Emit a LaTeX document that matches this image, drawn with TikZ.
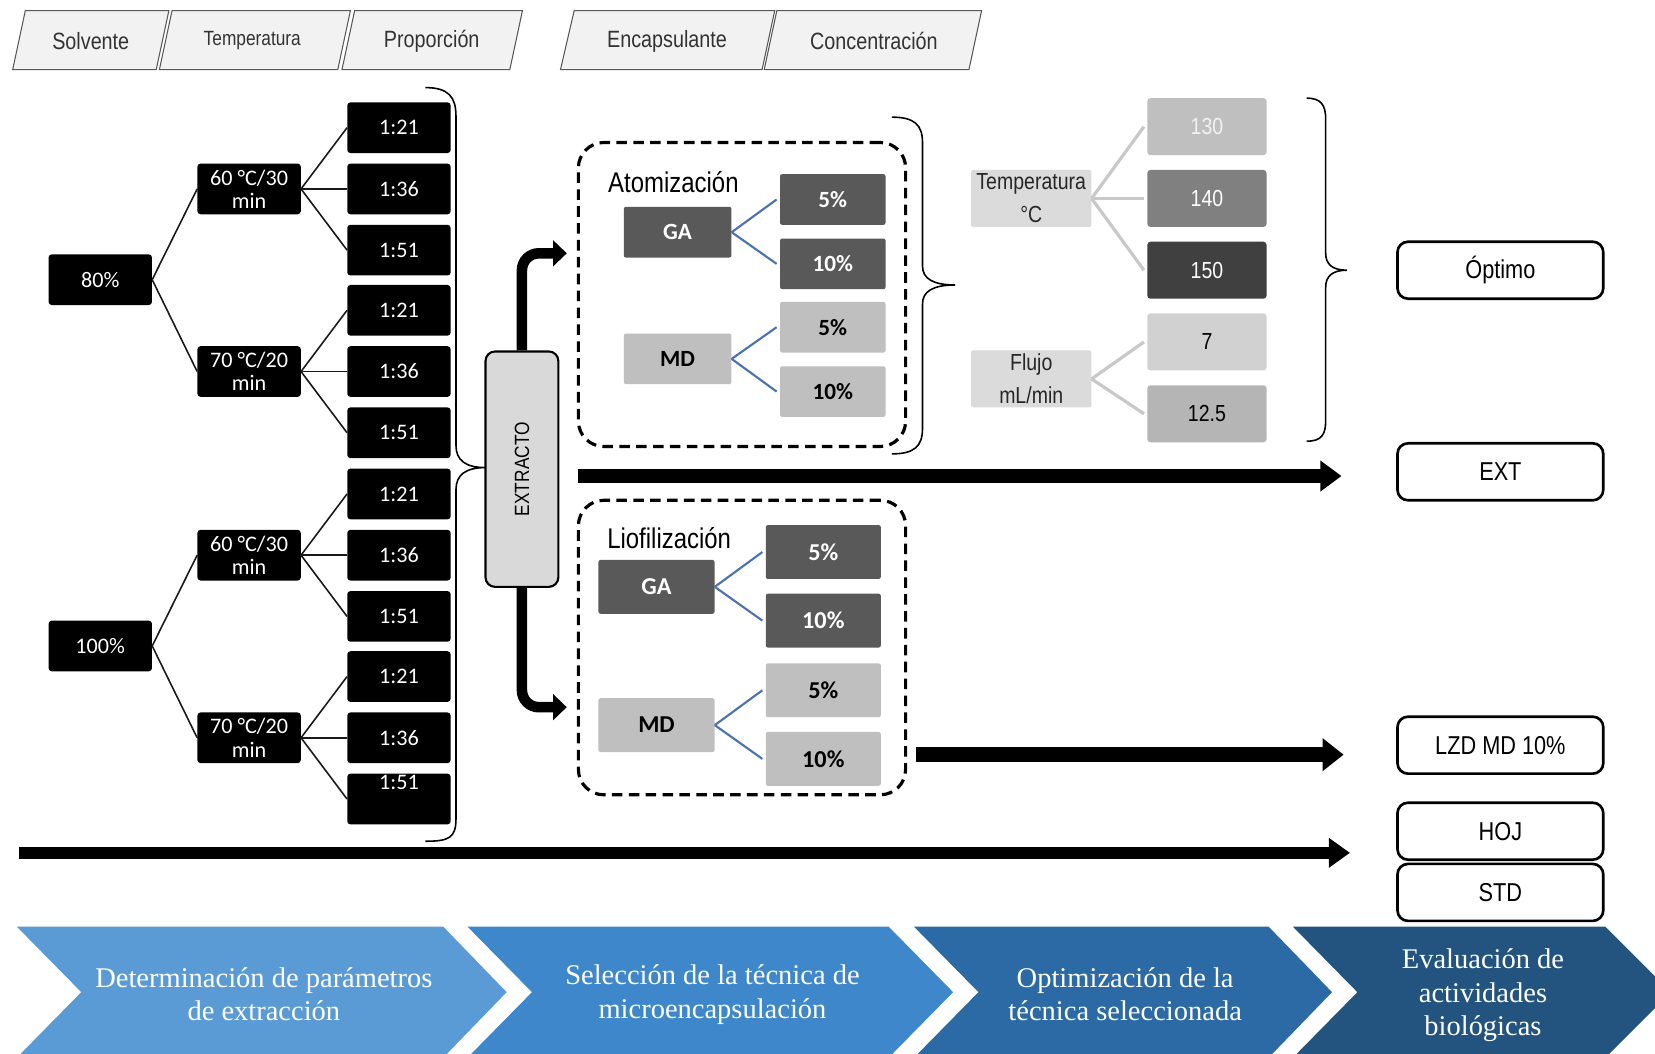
\documentclass[tikz,border=0pt]{standalone}
\usepackage{fontspec}
\setmainfont{Liberation Serif}
\newfontfamily\narfont[FakeStretch=0.84]{Liberation Sans}
\newfontfamily\calfont{Carlito}
\usetikzlibrary{arrows.meta}
\newcommand\fsz[2]{\fontsize{#1}{#2}\selectfont}
\definecolor{hdrfill}{HTML}{F2F2F2}
\definecolor{hdrline}{HTML}{595959}
\definecolor{gdk}{HTML}{595959}
\definecolor{glt}{HTML}{BFBFBF}
\definecolor{bluel}{HTML}{4A72B0}
\definecolor{grayl}{HTML}{C8C8C8}
\definecolor{chA}{HTML}{5B9BD5}
\definecolor{chB}{HTML}{3E87CA}
\definecolor{chC}{HTML}{2B6AA4}
\definecolor{chD}{HTML}{22547F}
\tikzset{
  hdr/.style={draw=hdrline, fill=hdrfill, line width=1pt},
  hdrtxt/.style={font=\narfont\fsz{22.3}{26}, text=black!80, inner sep=0pt},
  blk/.style={fill=black, rounded corners=3pt, minimum width=98pt, minimum height=48pt,
     inner sep=0pt, text=white, font=\calfont\fsz{21}{22}, align=center},
  tline/.style={line width=1.5pt, draw=black!90},
  fatarrow/.style={line width=10pt, rounded corners=16pt, -{Triangle[length=13pt,width=24pt]}},
  dbox/.style={draw=black, dash pattern=on 10pt off 6pt, line width=3pt, rounded corners=24pt,
     minimum width=310pt, inner sep=0pt},
  ptitle/.style={font=\narfont\fsz{27}{30}, inner sep=0pt},
  gdark/.style={fill=gdk, text=white, rounded corners=2pt, inner sep=0pt, font=\calfont\bfseries\fsz{22}{24}},
  glight/.style={fill=glt, text=black, rounded corners=2pt, inner sep=0pt, font=\calfont\bfseries\fsz{22}{24}},
  bline/.style={draw=bluel, line width=2pt},
  gline/.style={draw=grayl, line width=3pt},
  pbox/.style={minimum width=114pt, minimum height=54pt, inner sep=0pt, rounded corners=2pt,
     fill=black!14, text=black!85, align=center, font=\narfont\fsz{22}{31}},
  vbox/.style={minimum width=113pt, minimum height=54pt, inner sep=0pt, rounded corners=3pt,
     font=\narfont\fsz{22}{24}},
  rbox/.style={draw=black, line width=2.5pt, rounded corners=10pt, fill=white,
     minimum width=195pt, minimum height=54pt, inner sep=0pt, font=\narfont\fsz{24.5}{27}},
  brace/.style={draw=black, line width=1.5pt},
  chevtxt/.style={text=white, font=\fsz{27}{32}, align=center, inner sep=0pt}
}
\begin{document}
\begin{tikzpicture}[x=1pt,y=-1pt]
\clip (0,0) rectangle (1568,998);
\fill[white] (0,0) rectangle (1568,998);

% ---------- headers ----------
\draw[hdr] (24,10) -- (160,10) -- (148,66) -- (12,66) -- cycle;
\node[hdrtxt] (hSolv) at (86,39) {Solvente};
\draw[hdr] (163,10) -- (332,10) -- (320,66) -- (151,66) -- cycle;
\node[hdrtxt, font=\narfont\fsz{19.5}{23}] (hTemp) at (239,38) {Temperatura};
\draw[hdr] (336,10) -- (495,10) -- (483,66) -- (324,66) -- cycle;
\node[hdrtxt] (hProp) at (409,39) {Proporción};
\draw[hdr] (544,10) -- (734,10) -- (722,66) -- (531,66) -- cycle;
\node[hdrtxt] (hEnc) at (632,39) {Encapsulante};
\draw[hdr] (736,10) -- (930,10) -- (918,66) -- (724,66) -- cycle;
\node[hdrtxt] (hConc) at (828,39) {Concentración};

% ---------- extraction tree ----------
\node[blk] (s80) at (95,265) {80\%};
\node[blk] (s100) at (95,612) {100\%};
\node[blk] (t1) at (236,179) {60 °C/30\\min};
\node[blk] (t2) at (236,352) {70 °C/20\\min};
\node[blk] (t3) at (236,526) {60 °C/30\\min};
\node[blk] (t4) at (236,699) {70 °C/20\\min};
\foreach \i/\y/\t in {1/121/1:21, 2/179/1:36, 3/237/1:51,
                      4/294/1:21, 5/352/1:36, 6/410/1:51,
                      7/468/1:21, 8/526/1:36, 9/584/1:51,
                      10/641/1:21, 11/699/1:36}
  \node[blk] (r\i) at (378,\y) {\t};
\node[blk] (r12) at (378,757) {};
\node[text=white, font=\calfont\fsz{21}{22}, inner sep=0pt] (r12t) at (378,741) {1:51};

\foreach \p/\c in {s80/t1, s80/t2, s100/t3, s100/t4}
  \draw[tline] (\p.east) -- (\c.west);
\foreach \p/\a/\b/\c in {t1/r1/r2/r3, t2/r4/r5/r6, t3/r7/r8/r9, t4/r10/r11/r12}{
  \draw[tline] (\p.east) -- (\a.west);
  \draw[tline] (\p.east) -- (\b.west);
  \draw[tline] (\p.east) -- (\c.west);
}

% brace to EXTRACTO
\draw[brace] (403,83) .. controls (425,83) and (432,92) .. (432,110) -- (432,422)
  .. controls (432,436) and (441,443) .. (460,443)
  .. controls (441,443) and (432,450) .. (432,464) -- (432,776)
  .. controls (432,794) and (425,797) .. (403,797);

% ---------- EXTRACTO ----------
\node[draw=black, line width=2pt, fill=black!15, rounded corners=9pt,
      minimum width=69pt, minimum height=223pt, inner sep=0pt] (ext) at (494.5,444.5) {};
\node[rotate=90, font=\narfont\fsz{19.5}{22}, inner sep=0pt] (extt) at (ext.center) {EXTRACTO};
\coordinate (upEnd) at (537,240);
\coordinate (dnEnd) at (537,670);
\draw[fatarrow] (ext.north) -- (ext.north |- upEnd) -- (upEnd);
\draw[fatarrow] (ext.south) -- (ext.south |- dnEnd) -- (dnEnd);

% ---------- Atomizacion ----------
\node[dbox, minimum height=288pt] (atom) at (703,279) {};
\node[ptitle] (atomt) at (638,173) {Atomización};
\node[gdark, minimum width=102pt, minimum height=48pt] (aGA) at (642,220) {GA};
\node[gdark, minimum width=100pt, minimum height=48pt] (aG5) at (789,189) {5\%};
\node[gdark, minimum width=100pt, minimum height=48pt] (aG10) at (789,250) {10\%};
\node[glight, minimum width=102pt, minimum height=48pt] (aMD) at (642,340) {MD};
\node[glight, minimum width=100pt, minimum height=48pt] (aM5) at (789,310) {5\%};
\node[glight, minimum width=100pt, minimum height=48pt] (aM10) at (789,371) {10\%};
\draw[bline] (aGA.east) -- ([xshift=-3pt]aG5.west);
\draw[bline] (aGA.east) -- ([xshift=-3pt]aG10.west);
\draw[bline] (aMD.east) -- ([xshift=-3pt]aM5.west);
\draw[bline] (aMD.east) -- ([xshift=-3pt]aM10.west);

\draw[brace] (845,111) .. controls (866,111) and (874,118) .. (874,135) -- (874,252)
  .. controls (874,264) and (884,270) .. (905,270)
  .. controls (884,270) and (874,276) .. (874,288) -- (874,406)
  .. controls (874,423) and (866,430) .. (845,430);

% ---------- Liofilizacion ----------
\node[dbox, minimum height=279pt] (lio) at (703,613.5) {};
\node[ptitle] (liot) at (634,510) {Liofilización};
\node[gdark, minimum width=110pt, minimum height=51pt, font=\calfont\bfseries\fsz{23}{25}] (lGA) at (622,556) {GA};
\node[gdark, minimum width=109pt, minimum height=51pt, font=\calfont\bfseries\fsz{23}{25}] (lG5) at (780,523) {5\%};
\node[gdark, minimum width=109pt, minimum height=51pt, font=\calfont\bfseries\fsz{23}{25}] (lG10) at (780,588) {10\%};
\node[glight, minimum width=110pt, minimum height=51pt, font=\calfont\bfseries\fsz{23}{25}] (lMD) at (622,687) {MD};
\node[glight, minimum width=109pt, minimum height=51pt, font=\calfont\bfseries\fsz{23}{25}] (lM5) at (780,654) {5\%};
\node[glight, minimum width=109pt, minimum height=51pt, font=\calfont\bfseries\fsz{23}{25}] (lM10) at (780,719) {10\%};
\draw[bline] (lGA.east) -- ([xshift=-3pt]lG5.west);
\draw[bline] (lGA.east) -- ([xshift=-3pt]lG10.west);
\draw[bline] (lMD.east) -- ([xshift=-3pt]lM5.west);
\draw[bline] (lMD.east) -- ([xshift=-3pt]lM10.west);

% ---------- optimisation ----------
\node[pbox] (pT) at (977,188) {Temperatura\\°C};
\node[pbox] (pF) at (977,359) {Flujo\\mL/min};
\node[vbox, fill=glt, text=black!5] (v130) at (1143.5,120) {130};
\node[vbox, fill=black!50, text=white] (v140) at (1143.5,188) {140};
\node[vbox, fill=black!75, text=white] (v150) at (1143.5,256) {150};
\node[vbox, fill=black!18, text=black] (v7) at (1143.5,324) {7};
\node[vbox, fill=black!29, text=black] (v125) at (1143.5,392) {12.5};
\draw[gline] (pT.east) -- ([xshift=-3pt]v130.west);
\draw[gline] (pT.east) -- ([xshift=-3pt]v140.west);
\draw[gline] (pT.east) -- ([xshift=-3pt]v150.west);
\draw[gline] (pF.east) -- ([xshift=-3pt]v7.west);
\draw[gline] (pF.east) -- ([xshift=-3pt]v125.west);

\draw[brace] (1238,93) .. controls (1252,93) and (1256,100) .. (1256,113) -- (1256,240)
  .. controls (1256,250) and (1262,256) .. (1276,256)
  .. controls (1262,256) and (1256,262) .. (1256,272) -- (1256,398)
  .. controls (1256,412) and (1252,418) .. (1238,418);

% ---------- results ----------
\node[rbox] (opt) at (1421.5,256) {Óptimo};
\node[rbox] (extr) at (1421.5,447) {EXT};
\node[rbox] (lzd) at (1421.5,706) {LZD MD 10\%};
\node[rbox] (hoj) at (1421.5,787.5) {HOJ};
\node[rbox] (std) at (1421.5,845.5) {STD};

% ---------- long arrows ----------
\coordinate (a1s) at (548,451);
\coordinate (a1e) at (1271,451);
\draw[line width=13pt, -{Triangle[length=20pt,width=28pt]}] (a1s) -- (a1e);
\coordinate (a2s) at (868,715);
\coordinate (a2e) at (1273,715);
\draw[line width=14pt, -{Triangle[length=20pt,width=30pt]}] (a2s) -- (a2e);
\coordinate (a3s) at (18,808);
\coordinate (a3e) at (1279,808);
\draw[line width=12pt, -{Triangle[length=20pt,width=27pt]}] (a3s) -- (a3e);

% ---------- chevrons ----------
\fill[chA] (16,878) -- (420,878) -- (480,940) -- (420,1002) -- (16,1002) -- (77,940) -- cycle;
\fill[chB] (443,878) -- (842,878) -- (903,940) -- (842,1002) -- (443,1002) -- (504,940) -- cycle;
\fill[chC] (866,878) -- (1202,878) -- (1262,940) -- (1202,1002) -- (866,1002) -- (927,940) -- cycle;
\fill[chD] (1225,878) -- (1521,878) -- (1583,940) -- (1521,1002) -- (1225,1002) -- (1286,940) -- cycle;
\node[chevtxt] (c1t) at (250,942) {Determinación de parámetros\\de extracción};
\node[chevtxt] (c2t) at (675,942) {Selección de la técnica de\\microencapsulación};
\node[chevtxt] (c3t) at (1066,942) {Optimización de la\\técnica seleccionada};
\node[chevtxt] (c4t) at (1405,943) {Evaluación de\\actividades\\biológicas};
\end{tikzpicture}
\end{document}
